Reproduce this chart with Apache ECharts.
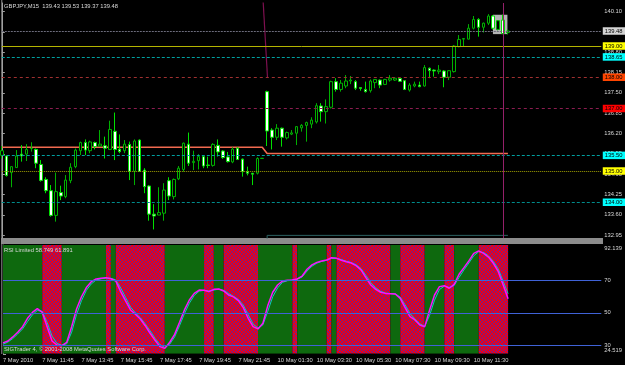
<!DOCTYPE html>
<html><head><meta charset="utf-8">
<script src="https://cdn.jsdelivr.net/npm/echarts@6/dist/echarts.min.js"></script>
<style>html,body{margin:0;padding:0;background:#000;}#c{width:625px;height:365px;}</style>
</head><body><div id="c"></div>
<script>
const symbolName = 'GBPJPY,M15';
const opens = [135.50,135.48,134.95,135.11,135.54,135.54,135.72,135.69,135.21,134.73,134.37,133.58,134.31,134.18,134.69,135.14,135.65,135.91,135.65,135.91,135.80,135.81,135.69,136.27,135.70,135.65,135.85,134.99,135.99,135.03,134.52,133.62,133.59,133.65,134.69,134.18,134.75,135.05,135.86,135.27,135.33,135.46,135.19,135.18,135.82,135.64,135.45,135.29,135.73,135.38,134.98,134.93,134.93,135.40,137.54,136.31,136.08,136.37,136.06,136.18,136.21,136.38,136.46,136.50,136.57,137.08,136.90,137.04,137.86,137.61,137.72,137.88,137.86,137.67,137.61,137.57,137.83,137.91,137.77,137.91,137.91,137.96,137.89,137.59,137.72,137.75,137.72,138.29,138.23,138.18,138.20,138.00,138.18,138.98,139.22,139.22,139.57,139.85,139.60,139.73,139.96,139.53,139.83,139.43];
const closes = [135.65,134.86,135.14,135.48,135.48,135.69,135.73,135.25,134.70,134.37,133.58,134.34,134.20,134.71,135.12,135.67,135.91,135.67,135.93,135.78,135.86,135.73,136.33,135.69,135.62,135.86,134.99,135.96,134.99,134.50,133.62,133.56,133.67,134.39,134.20,134.73,135.09,135.89,135.25,135.31,135.46,135.16,135.18,135.85,135.61,135.43,135.30,135.70,135.37,134.98,134.93,134.90,135.40,135.41,136.28,136.08,136.37,136.08,136.23,136.22,136.42,136.46,136.55,136.63,137.09,136.90,137.06,137.86,137.61,137.81,137.88,137.91,137.65,137.64,137.54,137.88,137.93,137.75,137.93,137.97,137.97,137.87,137.61,137.75,137.78,137.70,138.31,138.21,138.20,138.23,138.00,138.21,139.00,139.21,139.24,139.57,139.85,139.60,139.73,139.96,139.57,139.81,139.40,139.48];
const lows = [135.40,134.82,134.48,135.11,135.30,135.32,135.62,135.09,134.66,134.29,133.54,133.38,134.07,134.13,134.61,135.09,135.51,135.51,135.57,135.69,135.78,135.40,135.67,135.35,135.57,135.57,134.71,134.55,134.97,134.29,133.41,133.13,133.59,133.41,134.07,134.09,134.71,134.98,135.16,135.03,135.05,135.09,135.09,135.14,135.46,135.39,135.27,135.25,135.35,134.82,134.86,134.55,134.89,135.40,135.80,135.69,135.99,135.78,136.01,136.15,135.83,136.26,135.94,136.37,136.52,136.58,136.52,137.00,137.54,137.54,137.65,137.78,137.59,137.57,137.51,137.51,137.65,137.65,137.75,137.86,137.88,137.85,137.59,137.54,137.68,137.68,137.70,137.97,138.02,138.10,137.68,137.91,138.15,138.96,139.00,139.21,139.53,139.30,139.43,139.67,139.53,139.50,139.38,139.37];
const highs = [135.80,135.50,135.14,135.67,135.83,135.86,135.92,135.72,135.35,134.80,134.55,134.95,134.53,134.87,135.25,135.72,135.94,136.01,135.97,135.94,136.31,136.10,136.61,136.87,136.17,135.99,135.94,136.01,136.01,135.09,134.55,133.94,134.48,134.61,134.80,134.76,135.16,135.91,136.23,135.65,135.54,135.48,135.46,135.89,136.01,135.67,135.61,135.76,135.76,135.40,135.14,134.93,135.44,135.41,137.57,136.37,136.50,136.39,136.26,136.31,136.44,136.50,136.58,136.72,137.17,137.17,137.29,137.89,137.97,137.91,138.07,138.04,137.91,137.68,137.86,137.93,137.93,137.93,137.95,138.07,137.99,137.98,137.91,137.81,137.86,137.86,138.39,138.31,138.25,138.39,138.23,138.23,139.03,139.35,139.25,139.70,139.96,139.89,139.75,140.02,139.99,139.83,140.00,139.53];
const trailVertices = [[0,135.76],[53,135.76],[54,135.56],[103,135.56]];
const priceLevels = [139.48,139.00,138.65,138.00,137.00,135.50,135.00,134.00];
const priceTicks = [132.95,133.60,134.25,134.90,135.55,136.20,136.85,137.50,138.15,138.80,139.45,140.10];
const rsiMain = [31.3,32.5,35.0,37.9,41.4,46.6,50.3,52.6,50.3,41.4,32.5,30.0,29.6,31.7,41.4,52.4,60.0,65.7,69.4,71.1,71.5,71.9,71.2,69.8,63.2,57.4,51.8,49.1,46.2,42.0,37.3,32.9,29.0,27.9,31.7,36.6,44.1,51.8,58.0,62.1,64.2,64.0,63.2,64.6,64.8,63.6,61.1,59.9,57.6,53.2,46.6,41.4,40.0,43.5,54.5,62.8,67.3,69.8,70.2,70.4,71.1,72.9,77.1,79.8,81.4,82.3,82.9,84.3,83.9,82.7,81.8,81.0,79.4,76.7,71.9,67.3,64.6,62.8,62.1,61.9,61.7,59.0,53.2,47.6,45.6,42.4,41.4,51.8,61.1,66.3,66.9,65.3,67.7,74.0,78.1,82.3,87.0,88.5,87.0,84.7,80.8,75.6,67.3,58.749];
const rsiSignal = [30.5,31.8,34.0,36.8,40.0,44.5,48.8,51.5,51.0,44.0,35.5,31.0,29.8,30.8,38.0,49.0,57.5,64.0,68.0,70.5,71.2,71.6,71.5,70.5,65.5,59.5,53.5,50.0,47.0,43.2,38.8,34.2,30.2,28.5,30.5,35.0,42.0,49.5,56.0,60.8,63.5,64.0,63.5,64.2,64.7,64.0,62.0,60.3,58.3,54.8,48.8,43.0,40.5,42.5,51.0,60.0,65.5,69.0,70.0,70.3,70.9,72.3,76.0,79.0,80.9,82.0,82.7,83.9,84.0,83.1,82.1,81.3,79.9,77.6,73.3,68.8,65.6,63.4,62.3,62.0,61.8,59.8,55.0,49.5,46.3,43.2,41.6,48.5,57.9,64.5,66.6,65.8,67.0,72.0,76.7,81.0,85.5,88.0,87.5,85.5,82.0,77.2,69.5,61.891];
const rsiZone = [0,0,0,0,0,0,0,0,0,1,1,1,1,0,0,0,0,0,0,0,0,0,1,0,1,1,1,1,1,1,1,1,1,1,0,0,0,0,0,0,0,0,1,1,0,0,1,1,1,1,1,1,1,0,0,0,0,0,0,0,1,0,0,0,0,0,0,1,0,1,1,1,1,1,1,1,1,1,1,1,0,0,1,1,1,1,1,0,0,0,0,1,1,0,0,0,0,0,1,1,1,1,1,1];
const rsiLevels = [70,50,30];
const rsiTicks = [24.519,30,50,70,92.139];
const timeLabels = ['7 May 2010','7 May 11:45','7 May 13:45','7 May 15:45','7 May 17:45','7 May 19:45','7 May 21:45','10 May 01:30','10 May 03:30','10 May 05:30','10 May 07:30','10 May 09:30','10 May 11:30'];
const trendLine = [[53.17,140.47],[54.07,138.00]];
const cursorBar = 102;
const boxCorners = [[99.95,140.00],[102.9,139.38]];
const rectEdge = [[54,132.3],[54,132.94],[103,132.94]];

const SLOTS = 123;
const PRICE_MIN = 132.856, PRICE_MAX = 140.376;
const RSI_MIN = 24.519, RSI_MAX = 92.139;
const FONT = '"Liberation Sans",Arial,sans-serif';
const TXT = '#d8d8d8';
const FS = 5.8;

const levelStyles = [
  {line:'#6c6c7c', type:[2,1], tag:'#d4d4d4'},
  {line:'#b4b400', type:'solid', tag:'#ffff00'},
  {line:'#00a0a0', type:[3,2], tag:'#00ffff'},
  {line:'#a03030', type:[3,3], tag:'#ff4500'},
  {line:'#8c1c50', type:[3,3], tag:'#ff0000'},
  {line:'#00a0a0', type:[3,2], tag:'#00ffff'},
  {line:'#a0a000', type:[1,1], tag:'#ffff00'},
  {line:'#008c8c', type:[3,2], tag:'#00ffff'}
];

// dithered red fill (red with scattered blue pixels), as in the original histogram
const dither = document.createElement('canvas');
dither.width = 4; dither.height = 4;
(function(){
  const g = dither.getContext('2d');
  g.fillStyle = '#e8001c'; g.fillRect(0,0,4,4);
  g.fillStyle = '#4a2ab0';
  [[0,0],[2,1],[1,2],[3,3]].forEach(p=>g.fillRect(p[0],p[1],1,1));
})();
const RED_FILL = {image:dither, repeat:'repeat'};
const GREEN_FILL = '#0e690e';

const last = opens.length - 1;
const candles = opens.map((o,i)=>[o, closes[i], lows[i], highs[i]]);
const slotNames = Array.from({length:SLOTS}, (_,i)=>String(i));
const zoneRuns = [];
rsiZone.forEach((z,i)=>{ const r = zoneRuns[zoneRuns.length-1]; if (r && r[2]===z) r[1]=i; else zoneRuns.push([i,i,z]); });

const txtStyle = {color:TXT, fontSize:FS, fontWeight:'normal', fontFamily:FONT};
const chart = echarts.init(document.getElementById('c'), null, {renderer:'canvas'});
chart.setOption({
  animation:false,
  backgroundColor:'#000',
  textStyle:{fontFamily:FONT},
  title:[
    {text:`${symbolName}  ${opens[last].toFixed(2)} ${highs[last].toFixed(2)} ${lows[last].toFixed(2)} ${closes[last].toFixed(2)}`,
     left:4, top:3.5, padding:0, textStyle:txtStyle},
    {text:`RSI Limited ${rsiMain[last].toFixed(3)} ${rsiSignal[last].toFixed(3)}`,
     left:4, top:247, padding:0, textStyle:txtStyle},
    {text:'SIGTrader 4, © 2001-2008 MetaQuotes Software Corp.',
     left:4, top:346, padding:0, textStyle:txtStyle}
  ],
  grid:[
    {left:1.8, top:3, width:600, height:235, show:false},
    {left:1.8, top:245.1, width:600, height:108.7, show:false}
  ],
  xAxis:[
    {type:'category', gridIndex:0, data:slotNames, boundaryGap:false, show:false},
    {type:'value', gridIndex:0, min:0, max:SLOTS-1, show:false},
    {type:'value', gridIndex:1, min:0, max:SLOTS-1, interval:8,
     axisLine:{show:false}, splitLine:{show:false},
     axisTick:{show:false},
     axisLabel:{show:true, align:'left', margin:3.5, color:TXT, fontSize:FS, fontFamily:FONT,
       formatter:(v)=>{const k=Math.round(v/8); return (k<timeLabels.length && Math.abs(v-k*8)<1e-6) ? timeLabels[k] : '';}}}
  ],
  yAxis:[
    {type:'value', gridIndex:0, position:'right', min:PRICE_MIN, max:PRICE_MAX, splitLine:{show:false},
     axisLine:{show:true, lineStyle:{color:'#a0a0a0', width:1}},
     axisTick:{show:true, length:3, customValues:priceTicks, lineStyle:{color:'#a0a0a0'}},
     axisLabel:{show:true, margin:3, color:TXT, fontSize:FS, fontFamily:FONT, customValues:priceTicks,
       showMinLabel:true, showMaxLabel:true, formatter:(v)=>v.toFixed(2)}},
    {type:'value', gridIndex:1, position:'right', min:RSI_MIN, max:RSI_MAX, splitLine:{show:false},
     axisLine:{show:true, lineStyle:{color:'#a0a0a0', width:1}},
     axisTick:{show:true, length:3, customValues:rsiTicks, lineStyle:{color:'#a0a0a0'}},
     axisLabel:{show:true, margin:3, color:TXT, fontSize:FS, fontFamily:FONT, customValues:rsiTicks,
       showMinLabel:true, showMaxLabel:true,
       formatter:(v)=>{
         if (Math.abs(v-RSI_MAX)<1e-6) return '{t|'+v.toFixed(3)+'}';
         if (Math.abs(v-RSI_MIN)<1e-6) return '{b|'+v.toFixed(3)+'}';
         return String(Math.round(v));
       },
       rich:{t:{padding:[6,0,0,0], color:TXT, fontSize:FS, fontFamily:FONT},
             b:{padding:[0,0,6,0], color:TXT, fontSize:FS, fontFamily:FONT}}}}
  ],
  series:[
    {type:'line', xAxisIndex:1, yAxisIndex:0, data:[], z:1, silent:true,
     markArea:{silent:true, itemStyle:{color:'rgba(210,210,210,0.85)'},
       data:[[{coord:boxCorners[0]},{coord:boxCorners[1]}]]},
     markLine:{silent:true, symbol:['none','none'], animation:false,
       data:[
         ...priceLevels.map((p,k)=>({yAxis:p,
           lineStyle:{color:levelStyles[k].line, type:levelStyles[k].type, width:1},
           label:{show:true, position:'end', distance:1.5, formatter:p.toFixed(2),
             backgroundColor:levelStyles[k].tag, color:'#000', fontSize:FS, fontFamily:FONT,
             padding:[1,3,0,2], lineHeight:6.5}})),
         {xAxis:cursorBar, lineStyle:{color:'#94206a', type:'solid', width:1}, label:{show:false}}
       ]}},
    {type:'line', xAxisIndex:1, yAxisIndex:0, data:trailVertices, showSymbol:false, z:2, silent:true,
     lineStyle:{color:'#f26a50', width:1.6}},
    {type:'line', xAxisIndex:1, yAxisIndex:0, data:trendLine, showSymbol:false, z:2, silent:true,
     lineStyle:{color:'#7e1050', width:1.2}},
    {type:'line', xAxisIndex:1, yAxisIndex:0, data:rectEdge, showSymbol:false, z:2, silent:true,
     lineStyle:{color:'#2c6060', width:1}},
    {type:'candlestick', xAxisIndex:0, yAxisIndex:0, data:candles, barWidth:3, z:3, clip:true,
     itemStyle:{color:'#000', color0:'#ffffff', borderColor:'#00b000', borderColor0:'#00e000', borderWidth:1}},
    {type:'custom', xAxisIndex:2, yAxisIndex:1, z:1, silent:true, clip:true,
     data:zoneRuns,
     renderItem:(params, api)=>{
       const a = api.coord([api.value(0)-1, RSI_MAX]);
       const b = api.coord([api.value(1), RSI_MIN]);
       const cs = params.coordSys;
       const x0 = Math.max(a[0], cs.x), x1 = Math.min(b[0], cs.x+cs.width);
       if (x1 <= x0) return null;
       return {type:'rect', shape:{x:x0, y:a[1], width:x1-x0, height:b[1]-a[1]},
               style:{fill: api.value(2) ? RED_FILL : GREEN_FILL}};
     }},
    {type:'line', xAxisIndex:2, yAxisIndex:1, data:[], z:2, silent:true,
     markLine:{silent:true, symbol:['none','none'], label:{show:false},
       lineStyle:{color:'#3f62d6', type:'solid', width:1.2},
       data:rsiLevels.map(v=>({yAxis:v}))}},
    {type:'line', xAxisIndex:2, yAxisIndex:1, data:rsiSignal.map((v,i)=>[i,v]), showSymbol:false, z:3, silent:true,
     lineStyle:{color:'#10c8c0', width:1}},
    {type:'line', xAxisIndex:2, yAxisIndex:1, data:rsiMain.map((v,i)=>[i,v]), showSymbol:false, z:4, silent:true,
     lineStyle:{color:'#ff10ff', width:1.5}}
  ],
  graphic:[
    {type:'rect', silent:true, z:-1, shape:{x:1, y:238, width:602, height:6}, style:{fill:'#8c8c8c'}},
    {type:'line', silent:true, shape:{x1:1.8, y1:0, x2:1.8, y2:354}, style:{stroke:'#909090', lineWidth:1}}
  ]
});
</script>
</body></html>
